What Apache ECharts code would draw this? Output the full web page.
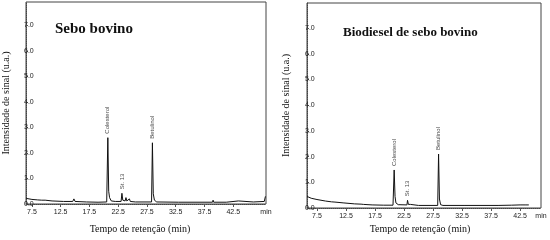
<!DOCTYPE html>
<html>
<head>
<meta charset="utf-8">
<script src="https://cdn.jsdelivr.net/npm/echarts@6/dist/echarts.min.js"></script>
<style>
  html, body { margin: 0; padding: 0; background: #fff; }
  #main { width: 550px; height: 240px; }
</style>
</head>
<body>
<div id="main"></div>
<script>
// retention time (min) / signal (u.a.)
const seboTime = [6.5, 7.5, 8.5, 9.2, 9.5, 9.8, 11, 13, 14.6, 14.8, 15.0, 17, 19, 20.5, 20.7, 20.85, 21.0, 21.3, 22,
    23.0, 23.15, 23.3, 23.7, 23.85, 24.0, 24.3, 24.45, 24.6, 25.5, 28.3, 28.45, 28.6, 28.8, 29.2, 33, 38.9, 39.0, 39.1,
    41.3, 41.6, 43.4, 43.7, 46, 47.9, 48.1];
const seboSignal = [0.22, 0.18, 0.16, 0.15, 0.2, 0.15, 0.12, 0.1, 0.1, 0.2, 0.1, 0.08, 0.07, 0.08, 2.6, 0.5, 0.25, 0.12, 0.1,
    0.1, 0.42, 0.15, 0.12, 0.25, 0.12, 0.12, 0.2, 0.1, 0.08, 0.08, 2.4, 0.4, 0.15, 0.08, 0.07, 0.07, 0.15, 0.07,
    0.07, 0.12, 0.12, 0.08, 0.08, 0.1, 0.3];

const bioTime = [5.8, 6.5, 7.5, 9, 10, 10.3, 10.6, 12, 14, 15.1, 15.3, 15.5, 17, 19, 20.6, 20.8, 20.95, 21.1, 21.5,
    23.0, 23.1, 23.25, 23.6, 23.75, 23.9, 25, 28.3, 28.45, 28.6, 28.8, 29.2, 33, 38.7, 38.85, 39, 41, 42.5, 43.5, 44];
const bioSignal = [0.45, 0.38, 0.33, 0.27, 0.24, 0.27, 0.23, 0.2, 0.16, 0.15, 0.22, 0.14, 0.12, 0.11, 0.11, 1.48, 0.45, 0.2, 0.13,
    0.12, 0.3, 0.14, 0.14, 0.18, 0.12, 0.1, 0.1, 2.1, 0.35, 0.13, 0.1, 0.1, 0.1, 0.16, 0.1, 0.11, 0.12, 0.12, 0.12];

// peak labels
const peakNames = ['Colesterol', 'St. 13', 'Betulinol'];
const seboPeakTime = [20.7, 23.15, 28.45];
const seboPeakSignal = [2.6, 0.42, 2.4];
const bioPeakTime = [20.8, 23.1, 28.45];
const bioPeakSignal = [1.48, 0.3, 2.1];

const xTicks = [7.5, 12.5, 17.5, 22.5, 27.5, 32.5, 37.5, 42.5];
const yTicks = [0, 1, 2, 3, 4, 5, 6, 7];

const panelTitles = ['Sebo bovino', 'Biodiesel de sebo bovino'];
const yName = 'Intensidade de sinal (u.a.)';
const xName = 'Tempo de retenção (min)';

const xRange = [[6.47, 48.2], [5.78, 46.1]];
const yMax = [7.92, 7.98];

let chart = echarts.init(document.getElementById('main'));

function pairs(xs, ys) {
    return xs.map((x, i) => [x, ys[i]]);
}

function xAxis(i) {
    let max = xRange[i][1];
    return {
        type: 'value', gridIndex: i, min: xRange[i][0], max: max,
        splitLine: {show: false},
        axisLine: {lineStyle: {color: '#444', type: 'dotted', width: 1}},
        axisTick: {show: true, customValues: xTicks, length: 3, inside: false, lineStyle: {color: '#555'}},
        axisLabel: {
            customValues: xTicks.concat([max]),
            fontSize: 7, color: '#222', margin: 5, fontFamily: 'Liberation Sans',
            formatter: v => (Math.abs(v - max) < 1e-6 ? 'min' : v.toFixed(1))
        }
    };
}

function yAxis(i) {
    return {
        type: 'value', gridIndex: i, min: 0, max: yMax[i],
        splitLine: {show: false},
        axisLine: {show: true, lineStyle: {color: '#444', type: 'dotted', width: 1}},
        axisTick: {show: true, customValues: yTicks, length: 2, inside: true, lineStyle: {color: '#555'}},
        axisLabel: {
            customValues: yTicks, inside: true, margin: -2,
            fontSize: 7, color: '#222', fontFamily: 'Liberation Sans',
            formatter: v => v.toFixed(1)
        },
        name: yName, nameLocation: 'middle', nameRotate: 90, nameGap: i === 0 ? 15 : 16,
        nameTextStyle: {fontFamily: 'Liberation Serif', fontSize: 10, color: '#111'}
    };
}

function labelSeries(i, xs, ys) {
    return {
        type: 'scatter', xAxisIndex: i, yAxisIndex: i, symbolSize: 0, silent: true,
        data: xs.map((x, k) => ({value: [x, ys[k]], name: peakNames[k]})),
        label: {
            show: true, position: 'top', distance: 4, rotate: 90,
            align: 'left', verticalAlign: 'middle',
            fontSize: 6, color: '#111', fontFamily: 'Liberation Sans',
            formatter: p => p.name
        }
    };
}

let option = {
    animation: false,
    backgroundColor: '#fff',
    title: [
        {text: panelTitles[0], left: 55, top: 22, padding: 0,
            textStyle: {fontFamily: 'Liberation Serif', fontWeight: 'bold', fontSize: 15, color: '#111'}},
        {text: panelTitles[1], left: 343, top: 26, padding: 0,
            textStyle: {fontFamily: 'Liberation Serif', fontWeight: 'bold', fontSize: 13, color: '#111'}},
        {text: xName, left: 140, top: 224, padding: 0, textAlign: 'center',
            textStyle: {fontFamily: 'Liberation Serif', fontWeight: 'normal', fontSize: 10, color: '#111'}},
        {text: xName, left: 420, top: 224, padding: 0, textAlign: 'center',
            textStyle: {fontFamily: 'Liberation Serif', fontWeight: 'normal', fontSize: 10, color: '#111'}}
    ],
    grid: [
        {left: 24, top: 2, width: 242, height: 202, show: true, borderColor: '#444', borderWidth: 1},
        {left: 307, top: 3, width: 234, height: 205, show: true, borderColor: '#444', borderWidth: 1}
    ],
    xAxis: [xAxis(0), xAxis(1)],
    yAxis: [yAxis(0), yAxis(1)],
    series: [
        {type: 'line', xAxisIndex: 0, yAxisIndex: 0, data: pairs(seboTime, seboSignal),
            showSymbol: false, lineStyle: {color: '#111', width: 1}},
        {type: 'line', xAxisIndex: 1, yAxisIndex: 1, data: pairs(bioTime, bioSignal),
            showSymbol: false, lineStyle: {color: '#111', width: 1}},
        labelSeries(0, seboPeakTime, seboPeakSignal),
        labelSeries(1, bioPeakTime, bioPeakSignal)
    ]
};

chart.setOption(option);
</script>
</body>
</html>
